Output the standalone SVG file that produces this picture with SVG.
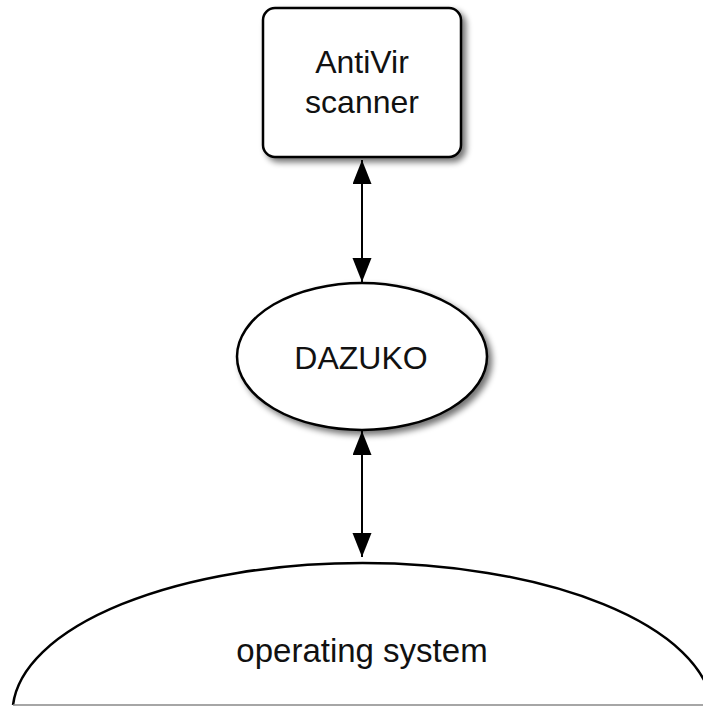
<svg xmlns="http://www.w3.org/2000/svg" width="703" height="706" viewBox="0 0 703 706">
<style>
.shape{fill:#fff;stroke:#000;stroke-width:2.5}
.lbl{font-family:"Liberation Sans",Arial,Helvetica,sans-serif;fill:#111;text-anchor:middle}
.conn{stroke:#000;stroke-width:2;fill:none;marker-start:url(#ah);marker-end:url(#ah)}
</style>
<defs>
<filter id="sh" x="-20%" y="-20%" width="150%" height="150%">
<feGaussianBlur in="SourceAlpha" stdDeviation="3"/>
<feOffset dx="4" dy="4" result="b"/>
<feComponentTransfer><feFuncA type="linear" slope="0.55"/></feComponentTransfer>
<feMerge><feMergeNode/><feMergeNode in="SourceGraphic"/></feMerge>
</filter>
<marker id="ah" markerUnits="userSpaceOnUse" markerWidth="26" markerHeight="20" refX="24" refY="9.5" orient="auto-start-reverse">
<path d="M0,0 L24,9.5 L0,19 z" fill="#000"/>
</marker>
</defs>
<rect width="703" height="706" fill="#fff"/>
<g id="os">
<path d="M13,705 A350,150 0 0 1 712,705" class="shape"/>
<line x1="13" y1="705" x2="703" y2="705" stroke="#888" stroke-width="1.5"/>
<text class="lbl" x="362" y="662" font-size="33">operating system</text>
</g>
<g id="scanner">
<rect x="263" y="8" width="198" height="149" rx="12" ry="12" class="shape" filter="url(#sh)"/>
<text class="lbl" x="362" y="73" font-size="32">AntiVir</text>
<text class="lbl" x="362" y="113" font-size="32">scanner</text>
</g>
<g id="dazuko">
<ellipse cx="362" cy="356.5" rx="125" ry="73.5" class="shape" filter="url(#sh)"/>
<text class="lbl" x="361" y="369" font-size="32">DAZUKO</text>
</g>
<g id="connectors">
<line x1="362" y1="160" x2="362" y2="282" class="conn"/>
<line x1="362" y1="431" x2="362" y2="557" class="conn"/>
</g>
</svg>
